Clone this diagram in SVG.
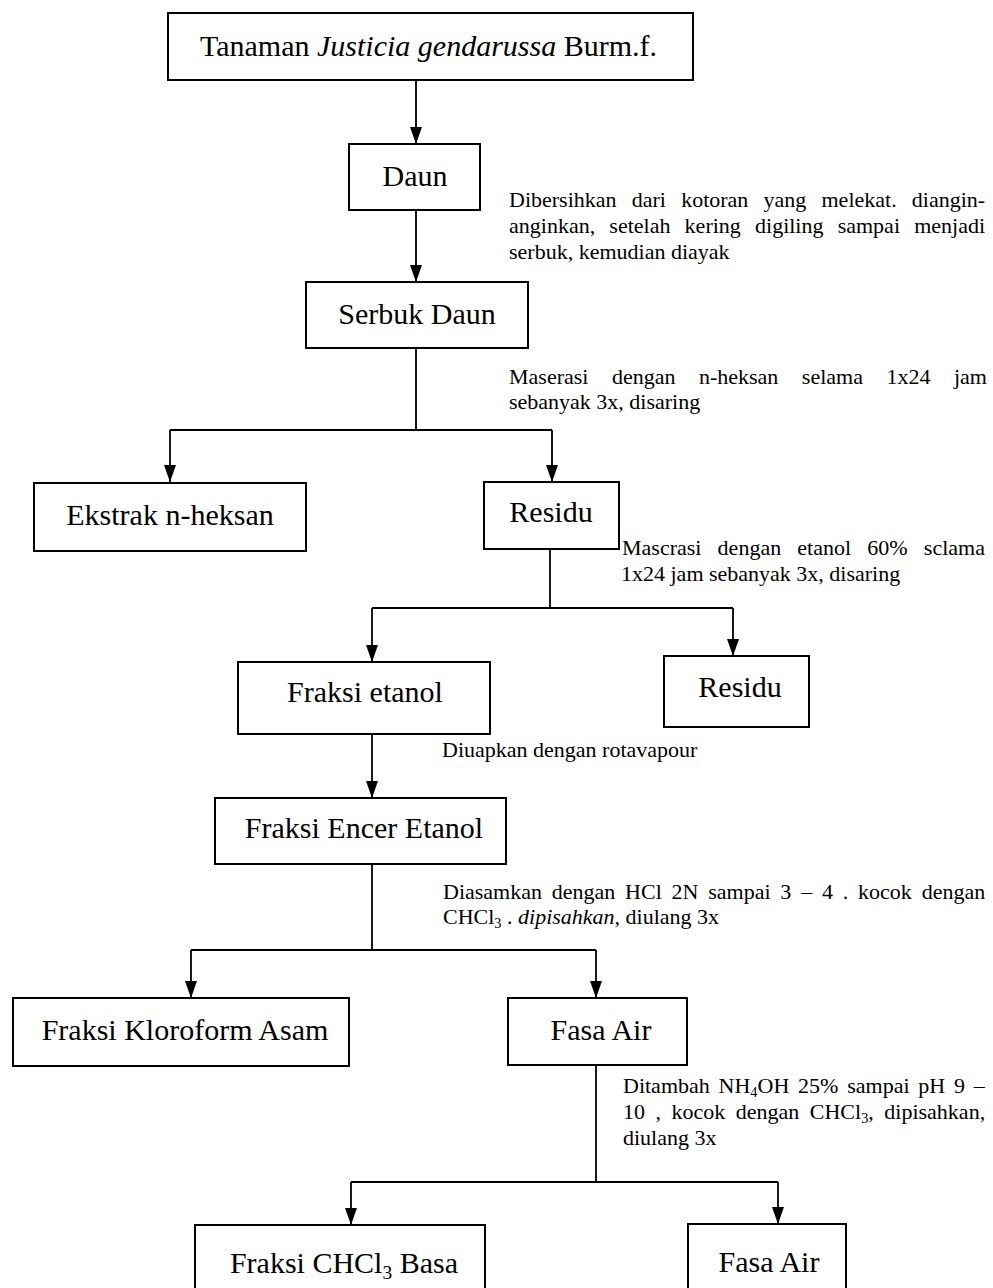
<svg xmlns="http://www.w3.org/2000/svg" width="993" height="1288" viewBox="0 0 993 1288">
  <style>
    .box { fill: #ffffff; stroke: #000000; stroke-width: 2; }
    .label { font-family: "Liberation Serif", "Times New Roman", serif; font-size: 30px; fill: #000000; text-anchor: middle; }
    .note { font-family: "Liberation Serif", "Times New Roman", serif; font-size: 22px; fill: #000000; }
    .wire { fill: none; stroke: #000000; stroke-width: 1.8; }
    .sub { font-size: 0.65em; }
  </style>
  <defs>
    <marker id="down" markerUnits="userSpaceOnUse" markerWidth="14" markerHeight="18" refX="7" refY="17" viewBox="0 0 14 18" orient="0">
      <path d="M1 0 L13 0 L7 17 Z" fill="#000000"/>
    </marker>
  </defs>

  <rect width="993" height="1288" fill="#ffffff"/>

  <!-- connectors -->
  <g id="connectors">
    <path class="wire" d="M416 80 V144" marker-end="url(#down)"/>
    <path class="wire" d="M416 210 V282" marker-end="url(#down)"/>
    <path class="wire" d="M416 348 V430 M170 430 H552"/>
    <path class="wire" d="M170 430 V482" marker-end="url(#down)"/>
    <path class="wire" d="M552 430 V482" marker-end="url(#down)"/>
    <path class="wire" d="M550 549 V608 M372 608 H733"/>
    <path class="wire" d="M372 608 V662" marker-end="url(#down)"/>
    <path class="wire" d="M733 608 V656" marker-end="url(#down)"/>
    <path class="wire" d="M372 734 V798" marker-end="url(#down)"/>
    <path class="wire" d="M372 864 V950 M191 950 H596"/>
    <path class="wire" d="M191 950 V998" marker-end="url(#down)"/>
    <path class="wire" d="M596 950 V998" marker-end="url(#down)"/>
    <path class="wire" d="M596 1065 V1182 M351 1182 H778"/>
    <path class="wire" d="M351 1182 V1225" marker-end="url(#down)"/>
    <path class="wire" d="M778 1182 V1224" marker-end="url(#down)"/>
  </g>

  <!-- process nodes -->
  <g id="tanaman">
    <rect class="box" x="168" y="13" width="525" height="67"/>
    <text class="label" x="200" y="56" style="text-anchor:start">Tanaman <tspan font-style="italic">Justicia gendarussa</tspan> Burm.f.</text>
  </g>
  <g id="daun">
    <rect class="box" x="349" y="144" width="131" height="66"/>
    <text class="label" x="415" y="186">Daun</text>
  </g>
  <g id="serbuk-daun">
    <rect class="box" x="306" y="282" width="222" height="66"/>
    <text class="label" x="417" y="324">Serbuk Daun</text>
  </g>
  <g id="ekstrak-n-heksan">
    <rect class="box" x="34" y="483" width="272" height="68"/>
    <text class="label" x="170" y="525">Ekstrak n-heksan</text>
  </g>
  <g id="residu-1">
    <rect class="box" x="484" y="482" width="135" height="67"/>
    <text class="label" x="551" y="522">Residu</text>
  </g>
  <g id="fraksi-etanol">
    <rect class="box" x="238" y="662" width="252" height="72"/>
    <text class="label" x="365" y="702">Fraksi etanol</text>
  </g>
  <g id="residu-2">
    <rect class="box" x="664" y="656" width="145" height="71"/>
    <text class="label" x="740" y="697">Residu</text>
  </g>
  <g id="fraksi-encer-etanol">
    <rect class="box" x="215" y="798" width="291" height="66"/>
    <text class="label" x="364" y="838">Fraksi Encer Etanol</text>
  </g>
  <g id="fraksi-kloroform-asam">
    <rect class="box" x="13" y="998" width="336" height="68"/>
    <text class="label" x="185" y="1040">Fraksi Kloroform Asam</text>
  </g>
  <g id="fasa-air-1">
    <rect class="box" x="508" y="998" width="179" height="67"/>
    <text class="label" x="601" y="1040">Fasa Air</text>
  </g>
  <g id="fraksi-chcl3-basa">
    <rect class="box" x="195" y="1225" width="290" height="70"/>
    <text class="label" x="344" y="1273">Fraksi CHCl<tspan class="sub" dy="6">3</tspan><tspan dy="-6"> Basa</tspan></text>
  </g>
  <g id="fasa-air-2">
    <rect class="box" x="688" y="1224" width="158" height="70"/>
    <text class="label" x="769" y="1272">Fasa Air</text>
  </g>

  <!-- step notes -->
  <g id="notes" class="note">
    <text x="509" y="207" word-spacing="9.7">Dibersihkan dari kotoran yang melekat. diangin-</text>
    <text x="509" y="233" word-spacing="8.7">anginkan, setelah kering digiling sampai menjadi</text>
    <text x="509" y="259">serbuk, kemudian diayak</text>

    <text x="509" y="384" word-spacing="18">Maserasi dengan n-heksan selama 1x24 jam</text>
    <text x="509" y="409">sebanyak 3x, disaring</text>

    <text x="622" y="555" word-spacing="10.7">Mascrasi dengan etanol 60% sclama</text>
    <text x="621" y="581">1x24 jam sebanyak 3x, disaring</text>

    <text x="442" y="757">Diuapkan dengan rotavapour</text>

    <text x="443" y="899" word-spacing="4.3">Diasamkan dengan HCl 2N sampai 3 – 4 . kocok dengan</text>
    <text x="443" y="924">CHCl<tspan class="sub" dy="4">3</tspan><tspan dy="-4"> . <tspan font-style="italic">dipisahkan</tspan>, diulang 3x</tspan></text>

    <text x="623" y="1093" word-spacing="3.3">Ditambah NH<tspan class="sub" dy="4">4</tspan><tspan dy="-4">OH 25% sampai pH 9 –</tspan></text>
    <text x="623" y="1119" word-spacing="5">10 , kocok dengan CHCl<tspan class="sub" dy="4">3</tspan><tspan dy="-4">, dipisahkan,</tspan></text>
    <text x="623" y="1145">diulang 3x</text>
  </g>
</svg>
